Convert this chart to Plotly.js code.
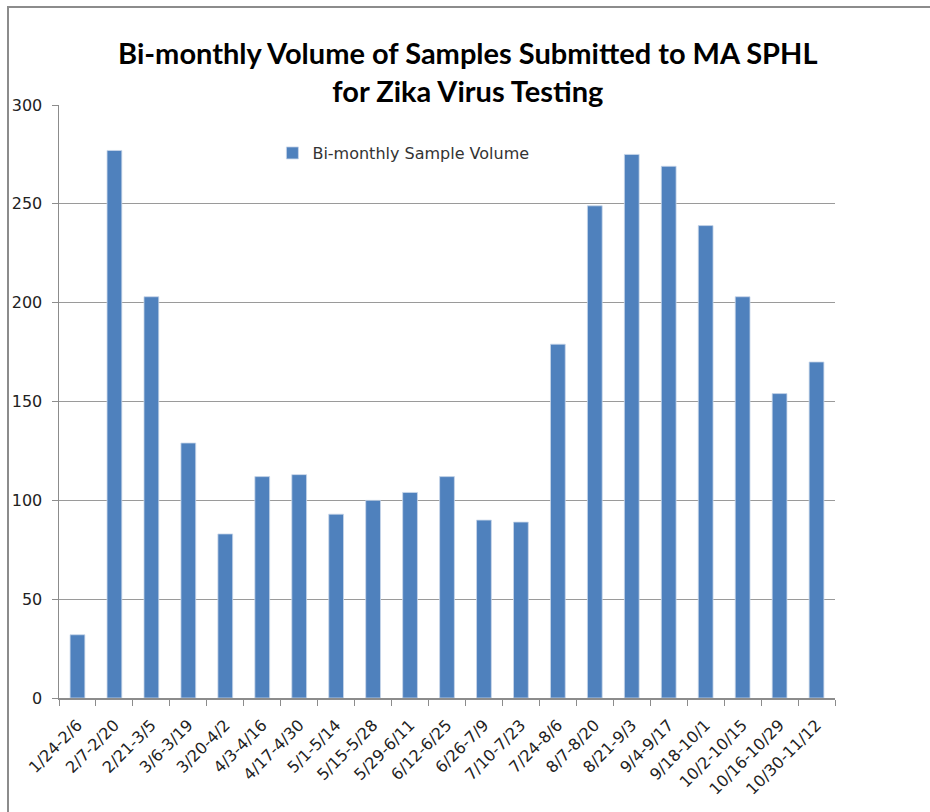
<!DOCTYPE html>
<html>
<head>
<meta charset="utf-8">
<script src="https://cdn.plot.ly/plotly-3.0.1.min.js"></script>
<style>
  html, body { margin: 0; padding: 0; background: #fff; }
  #wrap { position: relative; width: 930px; height: 812px; overflow: hidden; }
  #frame { position: absolute; left: 7px; top: 6px; width: 940px; height: 820px;
           border-left: 2px solid #8c8c8c; border-top: 2px solid #8c8c8c; pointer-events: none; }
  #chart { position: absolute; left: 0; top: 0; width: 930px; height: 812px; }
</style>
</head>
<body>
<div id="wrap">
  <div id="chart"></div>
  <div id="frame"></div>
</div>
<script>
const categories = ["1/24-2/6","2/7-2/20","2/21-3/5","3/6-3/19","3/20-4/2","4/3-4/16","4/17-4/30",
  "5/1-5/14","5/15-5/28","5/29-6/11","6/12-6/25","6/26-7/9","7/10-7/23","7/24-8/6","8/7-8/20",
  "8/21-9/3","9/4-9/17","9/18-10/1","10/2-10/15","10/16-10/29","10/30-11/12"];
const sampleVolume = [32, 277, 203, 129, 83, 112, 113, 93, 100, 104, 112, 90, 89, 179, 249, 275, 269, 239, 203, 154, 170];
const seriesName = "Bi-monthly Sample Volume";
const yTicks = [0, 50, 100, 150, 200, 250, 300];
const chartTitle = "Bi-monthly Volume of Samples Submitted to MA SPHL<br>for Zika Virus Testing";

const titleFont = "Lato, 'Open Sans', 'DejaVu Sans', sans-serif";
const labelFont = "'DejaVu Sans', Verdana, sans-serif";

const trace = {
  type: "bar",
  x: categories,
  y: sampleVolume,
  name: seriesName,
  showlegend: true,
  marker: { color: "#4F81BD", line: { color: "#c9d7ea", width: 0.8 } },
  hoverinfo: "x+y"
};

const layout = {
  width: 930,
  height: 812,
  paper_bgcolor: "#ffffff",
  plot_bgcolor: "#ffffff",
  margin: { l: 59, r: 95, t: 105, b: 114 },
  font: { family: labelFont, color: "#222", size: 16 },
  title: {
    text: chartTitle,
    font: { family: titleFont, size: 29, color: "#000", weight: "bold" },
    x: 0.503, xref: "container", xanchor: "center",
    y: 0.921, yref: "container", yanchor: "middle"
  },
  bargap: 0.6,
  showlegend: true,
  legend: {
    x: 0.275, y: 0.919, xanchor: "left", yanchor: "middle",
    bgcolor: "rgba(0,0,0,0)",
    font: { family: labelFont, size: 16, color: "#333" },
    itemwidth: 30
  },
  xaxis: {
    type: "category",
    tickangle: -45,
    ticks: "outside",
    tickson: "boundaries",
    ticklen: 6,
    tickcolor: "#8c8c8c",
    showline: true,
    linecolor: "#8c8c8c",
    linewidth: 1.5,
    showgrid: false,
    ticklabelstandoff: 10,
    tickfont: { family: labelFont, size: 16, color: "#222" },
    automargin: false
  },
  yaxis: {
    range: [0, 300],
    tickvals: yTicks,
    ticks: "outside",
    ticklen: 6,
    tickcolor: "#8c8c8c",
    showline: true,
    linecolor: "#8c8c8c",
    linewidth: 1.5,
    showgrid: true,
    gridcolor: "#9a9a9a",
    gridwidth: 1.3,
    zeroline: false,
    ticklabelstandoff: 6,
    tickfont: { family: labelFont, size: 16, color: "#222" },
    automargin: false
  }
};

Plotly.newPlot("chart", [trace], layout, { displayModeBar: false, staticPlot: true });
</script>
</body>
</html>
